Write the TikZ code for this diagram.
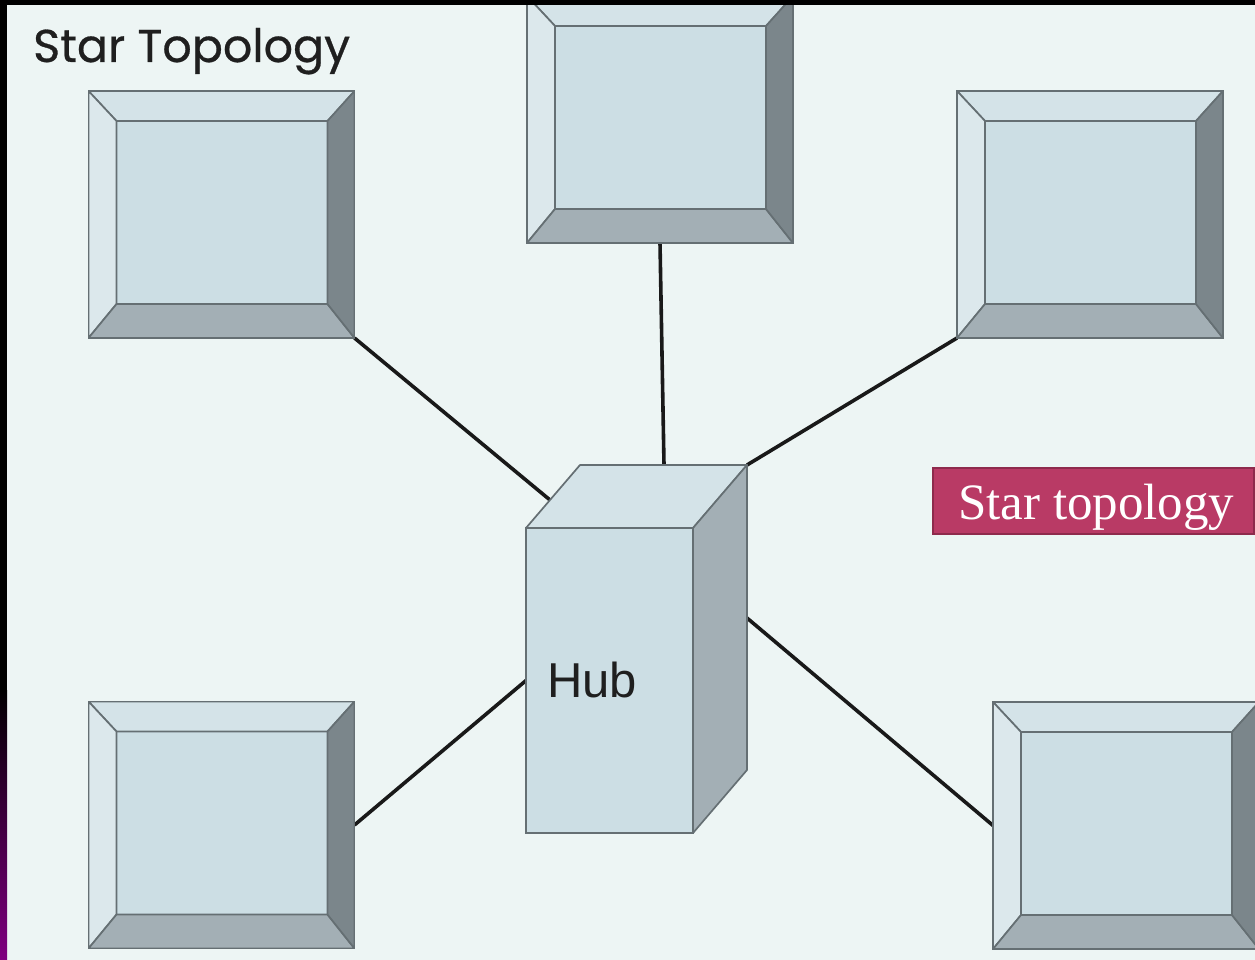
\documentclass[tikz,border=0pt]{standalone}
\usepackage{fontspec}
\usetikzlibrary{calc,backgrounds}
\newfontfamily\titlefont[BoldFont={Poppins}, BoldFeatures={FakeBold=0.6}]{Poppins}
\newfontfamily\hubfont{Liberation Sans}
\newfontfamily\labelfont{Liberation Serif}
\definecolor{bgc}{HTML}{EDF5F4}
\definecolor{innerc}{HTML}{CCDEE4}
\definecolor{topc}{HTML}{D4E3E8}
\definecolor{leftc}{HTML}{DCE8EC}
\definecolor{botc}{HTML}{A3AFB5}
\definecolor{rightc}{HTML}{7B868B}
\definecolor{edgec}{HTML}{656F73}
\definecolor{labelc}{HTML}{B93A65}
\definecolor{labeledge}{HTML}{8E2A4C}
\definecolor{purplec}{HTML}{800080}
\tikzset{
  bevel/.style={draw=edgec, line width=1.7pt, line join=round},
  monitor/.style={rectangle, minimum width=266pt, minimum height=247pt, inner sep=0pt, outer sep=0pt,
    draw=edgec, line width=1.7pt, fill=innerc,
    path picture={
      \coordinate (nw) at (path picture bounding box.north west);
      \coordinate (ne) at (path picture bounding box.north east);
      \coordinate (sw) at (path picture bounding box.south west);
      \coordinate (se) at (path picture bounding box.south east);
      \coordinate (inw) at ($(nw)+(28,30)$);
      \coordinate (ine) at ($(ne)+(-27,30)$);
      \coordinate (isw) at ($(sw)+(28,-34)$);
      \coordinate (ise) at ($(se)+(-27,-34)$);
      \filldraw[bevel, fill=topc] (nw) -- (ne) -- (ine) -- (inw) -- cycle;
      \filldraw[bevel, fill=leftc] (nw) -- (inw) -- (isw) -- (sw) -- cycle;
      \filldraw[bevel, fill=botc] (sw) -- (isw) -- (ise) -- (se) -- cycle;
      \filldraw[bevel, fill=rightc] (ne) -- (se) -- (ise) -- (ine) -- cycle;
    }},
  hubfront/.style={rectangle, minimum width=167pt, minimum height=305pt, inner sep=0pt, outer sep=0pt,
    draw=edgec, line width=1.7pt, fill=innerc},
  link/.style={draw=black!90, line width=3.6pt},
  labelbox/.style={rectangle, fill=labelc, draw=labeledge, line width=1.5pt, inner sep=0pt, outer sep=0pt,
    minimum width=321pt, minimum height=66pt}
}
\begin{document}
\begin{tikzpicture}[x=1pt, y=-1pt]
\useasboundingbox (0,0) rectangle (1255,960);

% computers
\node[monitor] (tl) at (221.5,214.5) {};
\node[monitor] (top) at (660,119.5) {};
\node[monitor] (tr) at (1090,214.5) {};
\node[monitor] (bl) at (221.5,825) {};
\node[monitor] (br) at (1126,825.5) {};

% hub
\node[hubfront] (hub) at (609.5,680.5) {};
\filldraw[bevel, fill=topc] (hub.north west) -- ($(hub.north west)+(54,-63)$) -- ($(hub.north east)+(54,-63)$) -- (hub.north east) -- cycle;
\filldraw[bevel, fill=botc] (hub.north east) -- ($(hub.north east)+(54,-63)$) -- ($(hub.south east)+(54,-63)$) -- (hub.south east) -- cycle;
\node[font=\hubfont\fontsize{49}{58}\selectfont, text=black!88, anchor=base west, inner sep=0pt] (hubtext) at (547,697) {Hub};

\coordinate (hubA) at (550,500);
\coordinate (hubB) at (664,465);
\coordinate (hubC) at (747,465);
\coordinate (hubD) at (747,618);

% background and connectors
\begin{scope}[on background layer]
\fill[bgc] (0,0) rectangle (1255,960);
\draw[link] (tl.south east) -- (hubA);
\draw[link] (top.south) -- (hubB);
\draw[link] (tr.south west) -- (hubC);
\draw[link] (hub.west) -- (bl.east);
\draw[link] (hubD) -- (br.west);
\end{scope}

% title
\node[font=\titlefont\bfseries\fontsize{46}{56}\selectfont, text=black!88, anchor=base west, inner sep=0pt] (title) at (33,62) {Star Topology};

% label
\node[labelbox] (lbl) at (1093.5,501) {};
\node[font=\labelfont\fontsize{51}{60}\selectfont, text=white, anchor=base west, inner sep=0pt] (lbltext) at (958,519) {Star topology};

% frame strips
\fill[black] (0,0) rectangle (1255,5);
\fill[black] (0,0) rectangle (7,690);
\shade[top color=black, bottom color=purplec] (0,690) rectangle (7,960);
\end{tikzpicture}
\end{document}
